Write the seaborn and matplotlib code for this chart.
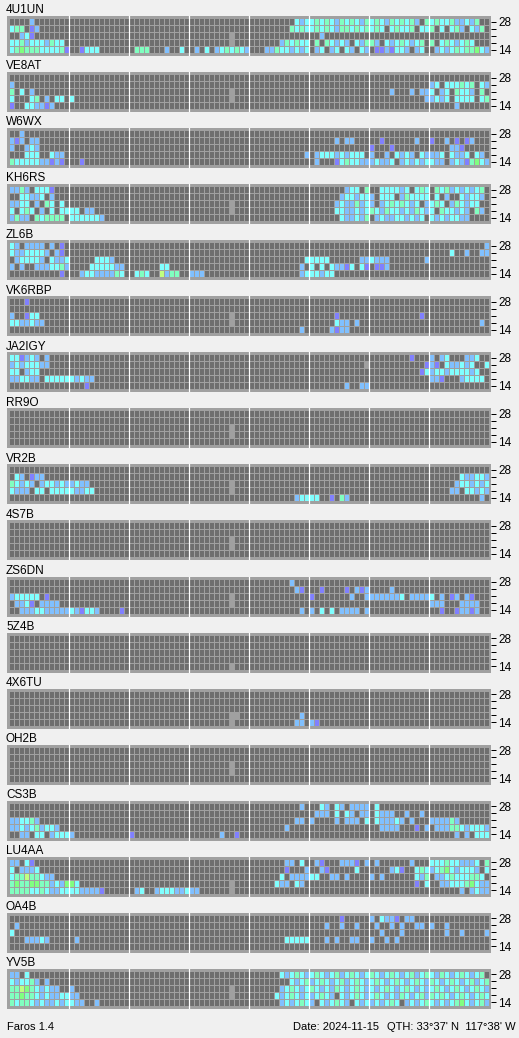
import numpy as np
import pandas as pd
import matplotlib
matplotlib.use("Agg")
import matplotlib.pyplot as plt
from matplotlib.colors import ListedColormap
import seaborn as sns

plt.rcParams['font.family'] = ['Liberation Sans', 'DejaVu Sans']

# ---------------- data ----------------
STATIONS = ["4U1UN", "VE8AT", "W6WX", "KH6RS", "ZL6B", "VK6RBP", "JA2IGY", "RR9O", "VR2B",
            "4S7B", "ZS6DN", "5Z4B", "4X6TU", "OH2B", "CS3B", "LU4AA", "OA4B", "YV5B"]
BANDS = ["28", "24", "21", "18", "14"]
TICK_LABELS = ["28", "", "", "", "14"]
N_SLOTS = 96
# cell codes: . no signal, l no data, p/b/c/a/g/y signal levels (weak -> strong)
CODES = ".lpbcagy"
COLORS = ["#6e6e6e", "#a0a0a0", "#8080ff", "#80c0ff", "#80ffff", "#80ffc0", "#80ff80", "#c0ff80"]
FOOTER_LEFT = "Faros 1.4"
FOOTER_DATE = "Date: 2024-11-15"
FOOTER_QTH = "QTH: 33°37' N  117°38' W"

LG = "............ ............ ............ ........l..."

ST_4U1UN = [
    "....b....... ............ ............ ............ .........cbc cacacbacacba cacbacacab.a caccabbcba..",
    "caa.pb...... ............ ............ ............ ........acac cacacbaacaca cac.cacca.cc a.c.cab.cba.",
    "..bcp....... ............ ............ ........l... ............ ..b......... ............ ............",
    "ccabcccbacc. ............ ............ ........l... ......bacacc .a.acbcb.cba ab.cbcacbca. a.cacbcac...",
    "cagaaaccccap ..pccc...... .aaa...b..c. .b.c.bcacacb ...bbaccbcbc .bc.bc.cb.cb .ppbpccb.bc. .bcbcacaagcb",
]
ST_VE8AT = [
    "",
    "b........... ............ ............ ............ ............ ............ ............ bc.cccaca.cb",
    "a.c.b....... ............ ............ ........l... ............ ............ ....b...b.bb c.bc.accb.a.",
    "c...ca.b.cc. c........... ............ ........l... ............ ............ ...........b bcbc.cccc.ca",
    "p..ccbbpb... ............ ............ ............ ............ ............ ............ .....b......",
]
ST_W6WX = [
    "..b.........",
    "bpb.bb...... ............ ............ ............ ............ .....b.bb... ..p......b.. p..b.p.pb...",
    "b..bcb...... ............ ............ ............ ............ ............ p...p....... ....bbp.....",
    "...ccc..cbb. ............ ............ ............ ...........b .bcccbcbccc. b..b.cbcb.cb bbc.cbbc.cb.",
    "acccccbbpbp. ..p......... ............ ............ ............ .b...pcaccbb bcbbc.bcbcbc cbb.bcbpagcb",
]
ST_KH6RS = [
    "bbab.cccp... ............ ............ ............ ............ .......bcc.a ..ccccbc.cac .acabcbcbca.",
    "..ccbbc.b... ............ ............ ............ ............ ......bccbcc b.ccc.bacccc .c.b..cbccb.",
    "bbcc.b.ac.c. ............ ............ ........l... ............ .....bcbbabc b.bcacacbc.b cac.bacbcc..",
    "c.cac.b.c.cc cc.bb....... ............ ........l... ............ .....ccbbcbc acbaccbcbacb c.accbcb.ab.",
    "babb.acaaaa. ccccccb..... ............ ............ ............ ......cbbcba .bcbbccbcbc. cbcbccbb....",
]
ST_ZL6B = [
    "cb.bbbb.b.p. ............ ............ ............ ............ ............ ............ ...........b",
    "cbbccccb.bp. ............ ............ ............ ............ ............ ............ ....c..b..bb",
    ".bccccb.cbbc .....cccb... ............ ............ ...........c cccc......bb cbbb.......b",
    "b.b..bbbccab ....cccccbb. ......cc.... ............ ..........b. c.c.cbbpc.cp .ppb........",
    "..........p. ..bccbbbbac. .cac..ybaa.. bbb......... ..........bc ccbcc.......",
]
ST_VK6RBP = [
    "...p........",
    "",
    "b..pcc...... ............ ............ ........l... ............ .....p...... ..........p.",
    "ccbbcbb..... ............ ............ ........l... ............ .....cbb.b.. ............ ..........b.",
    "............ ............ ............ ............ ..........b. ....bpbb....",
]
ST_JA2IGY = [
    "ccpbcb.b.... ............ ............ ............ ............ ............ ........p... b.bc...bbc..",
    "bcbcccbb.... ............ ............ ............ ............ ...........l ...........p bp.cbbcbc..c",
    "cc.bcc...... ............ ............ ............ ............ ............ ..........pc bccbccccbc..",
    "bbccbb.ccccc cbcbb....... ............ ............ ............ ............ ............ bbp...bcccc.",
    "............ ...p........ ............ ............ ............ .......b..bb",
]
ST_RR9O = ["", "", LG, LG, ""]
ST_VR2B = [
    "",
    ".cb.pbb..... ............ ............ ............ ............ ............ ............ ......cbbccb",
    "acbcb.bccbcb bcbb........ ............ ........l... ............ ............ ............ .....bccbcbc",
    "cbbb.cc.cccc cbbcc....... ............ ........l... ............ ............ ............ ....bb.ccbcb",
    "............ ............ ............ ............ .........bcc cc..p.ab.... ............ ..........b.",
]
ST_4S7B = ["", "", LG, LG, ""]
ST_ZS6DN = [
    "............ ............ ............ ............ ........b...",
    "............ ............ ............ ............ .........bp. ..p....p.bpb ....b.......",
    "bccccc.p.... ............ ............ ........l... ............ p.......b..b bbbbbbc.bbbb c.b.pb.bp...",
    ".bbcp.bbbb.. ............ ............ ........l... ............ ............ ............ bbb...bbbb..",
    "..bbbccbbbbb cbpccb....p. ............ ............ ..........b. b.c.c.bbbb.b ............ ..p..pbbpb..",
]
ST_5Z4B = ["", "", "", "", LG]
ST_4X6TU = [
    "", "", "",
    "............ ............ ............ ........ll.. ..........b.",
    "............ ............ ............ ........l... .........bb. bp..........",
]
ST_OH2B = ["", "", LG, LG, ""]
ST_CS3B = [
    "............ ............ ............ ............ ..........b. ..cb.cb.bbbb .c..........",
    "............ ............ ............ ............ ............ .bbb.c.cb.bb .cbbb..b..b.",
    "bbccab...... ............ ............ ............ .........bb. b....b.bbb.c .cbbbcb.b... bbbbab......",
    "bbcbcabccb.. ............ ............ ............ .......b.... ............ ..bbbb...p.b .bbbaacbcccb",
    "..bb.cc.bccc b........... p........... ......b..p.. ............ ............ ............ .....b.b.ccc",
]
ST_LU4AA = [
    "bb.cp....... ............ ............ ............ .......bb.c. .bp...bbbp.b .b......b... cccaccbbbc.a",
    "c.bbbc...... ............ ............ ............ .......p...b ..bp.....c.. ....bcp..cac bcagcbcccb.c",
    "caayaacbb... ............ ............ ............ ......c.bbbb cc..bb.b.... b.b......cba .bbcacccaac.",
    "agaaggaabcbg gc.......... ............ ........l... .....cbb.cb. ............ .........p.c ..bbcccagcbb",
    "aaaaccacbbcc ccbbbbp..... .bc..bcccbbc bb......l... ............ ............ ............ ......b.bcbb",
]
ST_OA4B = [
    "............ ............ ............ ............ ............ ......p..... b.cbbp.bb... ............",
    ".b.......... ............ ............ ............ ............ ...b..b..b.. .b..b.b..bb. b..b........",
    "c........... ............ ............ ............ ............ ............ ..b...b..... ...b..b....b",
    "...bbbcb.... .b.......... ............ ............ .......ccccc ...b.b..bb.. b..b.b...... ............",
    "",
]
ST_YV5B = [
    "bb.c........ ............ ............ ............ ......cbcacb cacbcabcacbc acbcacbcabca cbacbcacbca.",
    "cbccab.b.... ............ ............ ............ ........cbca bcacbcabcacb cacbcacbcacb acbcacbcabca",
    "aaygacbcbb.. b........... ............ ........l... ......bcacbc acbcbacbcacb cbcacbcacbcb cacbcacbcacb",
    "aagaacbcbbcc bb.......... ............ ........l... .....cbcacbc bcacb.cbcacb cacbcbacbcab acacbcacbcac",
    "acaacbcbbcbc cbb..b...... ............ ............ ......bcbcac b.cbcacb.cbc bcbcac.bcbca cbcbcagcbcab",
]

GRIDS = [ST_4U1UN, ST_VE8AT, ST_W6WX, ST_KH6RS, ST_ZL6B, ST_VK6RBP, ST_JA2IGY, ST_RR9O, ST_VR2B,
         ST_4S7B, ST_ZS6DN, ST_5Z4B, ST_4X6TU, ST_OH2B, ST_CS3B, ST_LU4AA, ST_OA4B, ST_YV5B]


def to_frame(rows):
    mat = []
    for r in rows:
        s = r.replace(" ", "").ljust(N_SLOTS, ".")[:N_SLOTS]
        mat.append([CODES.index(ch) for ch in s])
    return pd.DataFrame(np.array(mat), index=BANDS, columns=range(N_SLOTS))


# ---------------- drawing ----------------
W, H, DPI = 519, 1038, 100
fig = plt.figure(figsize=(W / DPI, H / DPI), dpi=DPI, facecolor="#f0f0f0")
cmap = ListedColormap(COLORS)
PX = 72.0 / DPI  # one pixel in points

PITCH = 56.05
for k, (name, rows) in enumerate(zip(STATIONS, GRIDS)):
    top = 16 + PITCH * k
    ax = fig.add_axes([7 / W, 1 - (top + 40) / H, 484 / W, 40 / H])
    ax.set_facecolor("#a0a0a0")
    sns.heatmap(to_frame(rows), ax=ax, cmap=cmap, vmin=-0.5, vmax=len(COLORS) - 0.5,
                cbar=False, linewidths=PX, linecolor="#a0a0a0",
                xticklabels=False, yticklabels=TICK_LABELS)
    ax.set_xlim(-0.4, N_SLOTS + 0.4)
    ax.set_ylim(5 + 3 / 7, -2 / 7)
    for j in range(1, 8):
        ax.axvline(12 * j, color="white", lw=PX * 1.2)
    ax.yaxis.tick_right()
    ax.set_yticks(np.arange(5) + 0.5)
    ax.set_yticklabels(TICK_LABELS, rotation=0)
    ax.tick_params(axis="y", right=True, left=False, length=5 * PX, width=PX,
                   pad=1.5, labelsize=8.5, colors="black")
    ax.tick_params(axis="x", bottom=False, labelbottom=False)
    ax.set_xlabel("")
    ax.set_ylabel("")
    for sp in ax.spines.values():
        sp.set_visible(False)
    fig.text(6 / W, 1 - (top - 2.7) / H, name, fontsize=8.5, va="baseline", ha="left", color="black")

fig.text(7 / W, 1 - 1030 / H, FOOTER_LEFT, fontsize=8, va="baseline", ha="left")
fig.text(293 / W, 1 - 1030 / H, FOOTER_DATE, fontsize=8, va="baseline", ha="left")
fig.text(387 / W, 1 - 1030 / H, FOOTER_QTH, fontsize=8, va="baseline", ha="left")

fig.savefig("out.png", dpi=DPI, facecolor=fig.get_facecolor())
